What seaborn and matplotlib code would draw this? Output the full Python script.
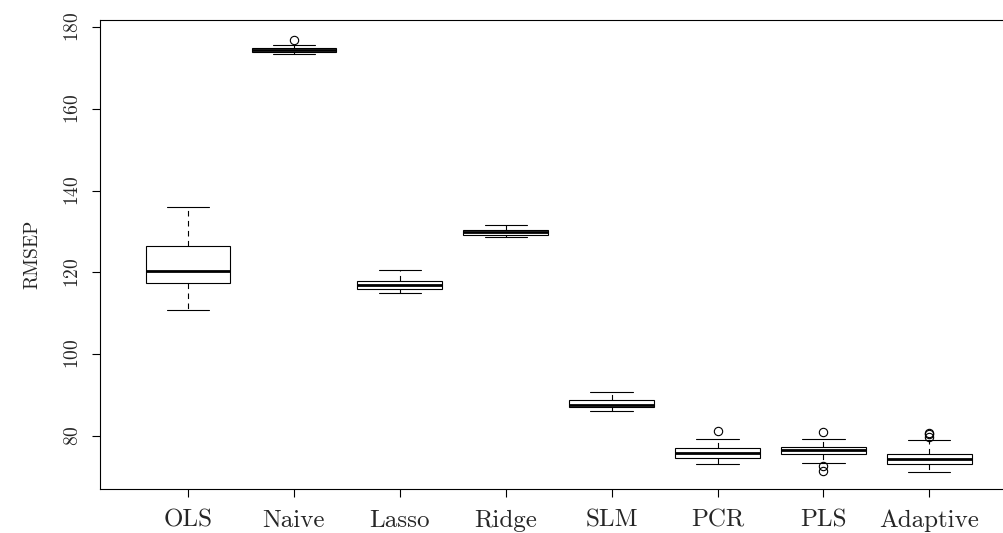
import numpy as np
import pandas as pd
import matplotlib
matplotlib.use('Agg')
import matplotlib.pyplot as plt
import seaborn as sns

# Five-number summaries (RMSEP)
methods = ['OLS', 'Naive', 'Lasso', 'Ridge', 'SLM', 'PCR', 'PLS', 'Adaptive']
lower_whisker = [110.8, 173.4, 115.0, 128.6, 86.1, 73.2, 73.5, 71.1]
q1 = [117.3, 173.9, 115.9, 129.1, 87.1, 74.6, 75.7, 73.1]
median = [120.4, 174.4, 116.9, 129.8, 87.6, 75.8, 76.5, 74.3]
q3 = [126.5, 174.8, 118.0, 130.4, 88.9, 77.0, 77.2, 75.6]
upper_whisker = [135.9, 175.6, 120.6, 131.6, 90.8, 79.3, 79.3, 79.0]
low_outliers = [[], [], [], [], [], [], [72.6, 71.5], []]
high_outliers = [[], [176.8], [], [], [], [81.2], [81.0], [80.7, 80.4, 79.7]]


def build_sample(i):
    """17 values whose quartiles / whiskers / fliers give the summary above"""
    lo = low_outliers[i]
    hi = high_outliers[i]
    vals = (lo + [lower_whisker[i]] * (4 - len(lo))
            + [q1[i]] * 4 + [median[i]] * 4 + [q3[i]]
            + [upper_whisker[i]] * (4 - len(hi)) + hi)
    return vals


rows = []
for i, m in enumerate(methods):
    for v in build_sample(i):
        rows.append({'method': m, 'RMSEP': v})
df = pd.DataFrame(rows)

sns.set_style('ticks')
plt.rcParams['font.family'] = ['cmr10', 'DejaVu Serif']
plt.rcParams['axes.formatter.use_mathtext'] = True

fig = plt.figure(figsize=(10.04, 5.33), dpi=100)
# axes runs past the right edge of the picture, like the reference
ax = fig.add_axes([100 / 1004, 44 / 533, 910 / 1004, 469 / 533])

sns.boxplot(data=df, x='method', y='RMSEP', order=methods, ax=ax,
            color='white', linecolor='black', linewidth=0.8, width=0.8,
            whis=1.5, saturation=1,
            whiskerprops=dict(linestyle=(0, (5, 4))),
            medianprops=dict(linewidth=2.0, color='black'),
            flierprops=dict(marker='o', markersize=6, markerfacecolor='none',
                            markeredgecolor='black', markeredgewidth=0.8))

ax.set_xlim(-0.831, 7.762)
ax.set_ylim(67.04, 181.71)
ax.set_yticks([80, 100, 120, 140, 160, 180])
ax.set_xlabel('')
ax.set_ylabel('RMSEP', fontsize=14, labelpad=16)

for s in ax.spines.values():
    s.set_visible(True)
    s.set_linewidth(0.8)
    s.set_color('black')

ax.tick_params(axis='both', direction='out', length=6, width=0.8, color='black')
ax.tick_params(axis='x', labelsize=18, pad=9)
ax.tick_params(axis='y', labelsize=14, pad=7)
for lab in ax.get_yticklabels():
    lab.set_rotation(90)
    lab.set_va('center')

fig.savefig('out.png', dpi=100)
